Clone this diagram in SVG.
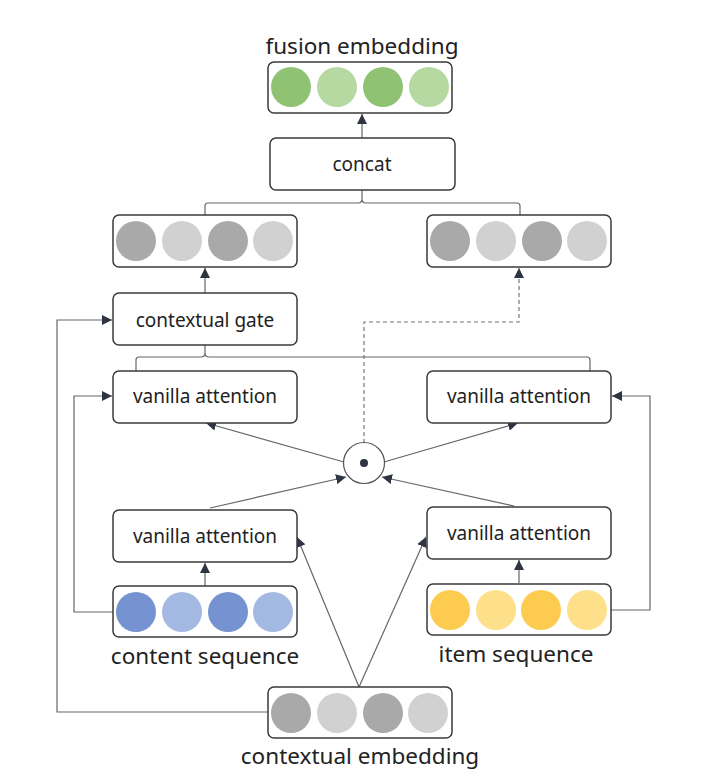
<svg xmlns="http://www.w3.org/2000/svg" width="717" height="780" viewBox="0 0 717 780">
<defs>
<marker id="ah" viewBox="0 0 10 10" refX="10" refY="5" markerWidth="10" markerHeight="10" markerUnits="userSpaceOnUse" orient="auto">
<path d="M0,0 L10,5 L0,10 Z" fill="#2e3442"/>
</marker>
</defs>
<style>
.box{fill:#fff;stroke:#3a3a3a;stroke-width:1.5}
.lbl{font-family:"Noto Sans","Liberation Sans",sans-serif;font-size:19px;fill:#222;text-anchor:middle}
.cap{font-family:"Noto Sans","Liberation Sans",sans-serif;font-size:22.5px;fill:#222;text-anchor:middle}
.ln{fill:none;stroke:#666;stroke-width:1.2}
.arr{fill:none;stroke:#666;stroke-width:1.2;marker-end:url(#ah)}
.dash{fill:none;stroke:#777;stroke-width:1.2;stroke-dasharray:4 3;marker-end:url(#ah)}
.g1{fill:#8fc373}.g2{fill:#b6d9a2}
.k1{fill:#a9a9aa}.k2{fill:#d1d1d2}
.b1{fill:#7593d0}.b2{fill:#a4b9e2}
.y1{fill:#fdcb4f}.y2{fill:#fde089}
</style>
<rect width="717" height="780" fill="#fff"/>

<g id="connectors">
<path class="arr" d="M362,138 V114"/>
<path class="ln" d="M205,215 V206 Q205,203 208,203 H358 Q362,203 362,199 Q362,203 366,203 H517 Q520,203 520,206 V215"/>
<path class="ln" d="M362,199 V190"/>
<path class="arr" d="M205,293 V268"/>
<path class="ln" d="M136,371 V360 Q136,357 139,357 H201 Q205,357 205,353 Q205,357 209,357 H587 Q590,357 590,360 V371"/>
<path class="ln" d="M205,353 V345"/>
<path class="dash" d="M364,443 V322 H519 V268"/>
<path class="arr" d="M268,712 H57 V320 H112"/>
<path class="arr" d="M113,612 H74 V396 H112"/>
<path class="arr" d="M611,610 H650 V396 H612"/>
<path class="arr" d="M205,586 V563"/>
<path class="arr" d="M519,583 V560"/>
<path class="arr" d="M359,687 L297,537"/>
<path class="arr" d="M359,687 L426,537"/>
<path class="arr" d="M210,508 L346,477"/>
<path class="arr" d="M514,506 L382,477"/>
<path class="arr" d="M344,462 L206,423"/>
<path class="arr" d="M384,462 L518,423"/>
</g>

<g id="fusion">
<text class="cap" x="362" y="54">fusion embedding</text>
<rect class="box" x="268" y="62" width="184" height="51" rx="6"/>
<circle class="g1" cx="291" cy="87" r="20"/>
<circle class="g2" cx="337" cy="87" r="20"/>
<circle class="g1" cx="383" cy="87" r="20"/>
<circle class="g2" cx="429" cy="87" r="20"/>
</g>

<g id="concat">
<rect class="box" x="270" y="138" width="185" height="52" rx="6"/>
<text class="lbl" x="362" y="171">concat</text>
</g>

<g id="gray-left">
<rect class="box" x="113" y="215" width="184" height="52" rx="6"/>
<circle class="k1" cx="136" cy="241" r="20"/>
<circle class="k2" cx="182" cy="241" r="20"/>
<circle class="k1" cx="228" cy="241" r="20"/>
<circle class="k2" cx="273" cy="241" r="20"/>
</g>

<g id="gray-right">
<rect class="box" x="427" y="215" width="184" height="52" rx="6"/>
<circle class="k1" cx="450" cy="241" r="20"/>
<circle class="k2" cx="496" cy="241" r="20"/>
<circle class="k1" cx="542" cy="241" r="20"/>
<circle class="k2" cx="587" cy="241" r="20"/>
</g>

<g id="gate">
<rect class="box" x="113" y="293" width="184" height="52" rx="6"/>
<text class="lbl" x="205" y="327">contextual gate</text>
</g>

<g id="va-top-left">
<rect class="box" x="113" y="371" width="184" height="52" rx="6"/>
<text class="lbl" x="205" y="403">vanilla attention</text>
</g>

<g id="va-top-right">
<rect class="box" x="427" y="371" width="184" height="52" rx="6"/>
<text class="lbl" x="519" y="403">vanilla attention</text>
</g>

<g id="hadamard">
<circle cx="364" cy="463" r="20.5" fill="#fff" stroke="#555" stroke-width="1.2"/>
<circle cx="364" cy="463" r="4" fill="#2e3442"/>
</g>

<g id="va-bottom-left">
<rect class="box" x="113" y="510" width="184" height="52" rx="6"/>
<text class="lbl" x="205" y="543">vanilla attention</text>
</g>

<g id="va-bottom-right">
<rect class="box" x="427" y="507" width="184" height="52" rx="6"/>
<text class="lbl" x="519" y="540">vanilla attention</text>
</g>

<g id="content-seq">
<rect class="box" x="113" y="586" width="184" height="51" rx="6"/>
<circle class="b1" cx="136" cy="612" r="20"/>
<circle class="b2" cx="182" cy="612" r="20"/>
<circle class="b1" cx="228" cy="612" r="20"/>
<circle class="b2" cx="273" cy="612" r="20"/>
<text class="cap" x="205" y="664">content sequence</text>
</g>

<g id="item-seq">
<rect class="box" x="427" y="584" width="184" height="51" rx="6"/>
<circle class="y1" cx="450" cy="610" r="20"/>
<circle class="y2" cx="496" cy="610" r="20"/>
<circle class="y1" cx="541" cy="610" r="20"/>
<circle class="y2" cx="587" cy="610" r="20"/>
<text class="cap" x="516" y="662">item sequence</text>
</g>

<g id="ctx-emb">
<rect class="box" x="268" y="687" width="184" height="51" rx="6"/>
<circle class="k1" cx="291" cy="713" r="20"/>
<circle class="k2" cx="337" cy="713" r="20"/>
<circle class="k1" cx="383" cy="713" r="20"/>
<circle class="k2" cx="428" cy="713" r="20"/>
<text class="cap" x="360" y="764">contextual embedding</text>
</g>
</svg>
